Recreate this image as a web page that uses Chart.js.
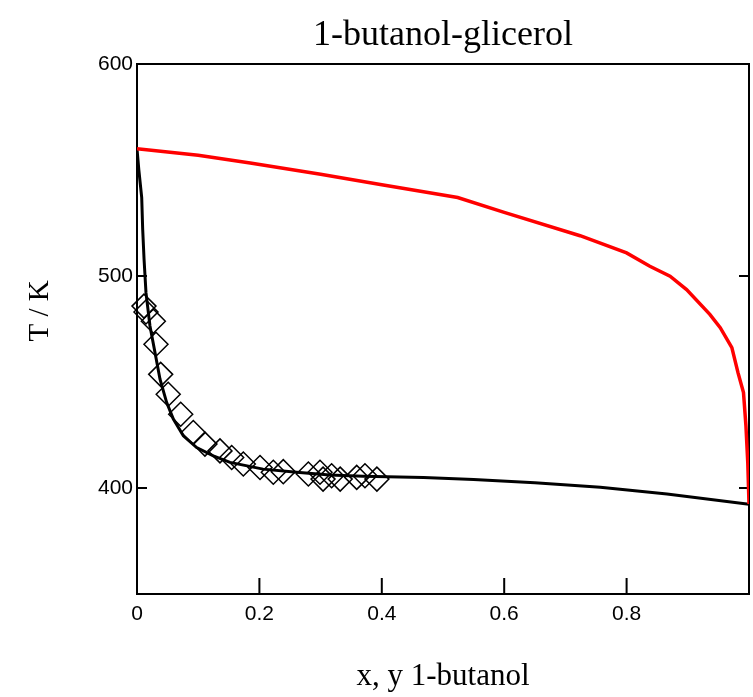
<!DOCTYPE html>
<html>
<head>
<meta charset="utf-8">
<script src="https://cdn.jsdelivr.net/npm/chart.js@4.4.0/dist/chart.umd.min.js"></script>
<style>
  html, body { margin: 0; padding: 0; background: #fff; overflow: hidden; }
  #wrap { width: 753px; height: 697px; position: relative; }
  canvas { display: block; }
</style>
</head>
<body>
<div id="wrap"><canvas id="chart"></canvas></div>
<script>
// liquid curve, T vs x (black)
var liqX = [0, 0.003, 0.0077, 0.0093, 0.0115, 0.0147, 0.0212, 0.0294, 0.0376, 0.0485, 0.0594, 0.0757, 0.0975, 0.1247, 0.152, 0.206, 0.261, 0.315, 0.37, 0.468, 0.55, 0.65, 0.757, 0.866, 1.0]
var liqT = [560, 550, 537, 522, 508, 492, 476.4, 463.9, 451.3, 440.3, 432.5, 424.6, 419.1, 415.2, 412.1, 408.9, 407.4, 406.1, 405.5, 405, 404, 402.5, 400.3, 397.2, 392.3]

// vapour curve, T vs y (red)
var vapX = [0, 0.1, 0.185, 0.3, 0.4, 0.524, 0.6, 0.724, 0.8, 0.838, 0.871, 0.898, 0.936, 0.953, 0.972, 0.982, 0.991, 0.995, 0.998, 1.0]
var vapT = [560, 557, 553.3, 548, 543, 537, 530, 519, 510.9, 504.6, 499.9, 493.6, 481.9, 475.6, 466.2, 454.4, 445, 429.3, 412, 392.5]

// experimental points (diamonds)
var expX = [0.0114, 0.0147, 0.0267, 0.031, 0.0387, 0.051, 0.0714, 0.092, 0.111, 0.1356, 0.1547, 0.1737, 0.201, 0.2227, 0.239, 0.28, 0.299, 0.304, 0.318, 0.332, 0.359, 0.3725, 0.392]
var expT = [485.8, 483, 478.7, 467.8, 453.6, 444.2, 434.8, 426.2, 420.7, 417.5, 414.4, 411.3, 409.7, 407.4, 407.7, 406.6, 407.4, 404.2, 405.8, 404.2, 405, 405.8, 404.2]

var xTicks = [0, 0.2, 0.4, 0.6, 0.8, 1]
var yTicks = [400, 500, 600]

function toPoints(xs, ys) {
    return xs.map(function (x, i) { return { x: x, y: ys[i] } })
}

// box round the plot + inward tick marks
var frameTicks = {
    id: 'frameTicks',
    beforeDatasetsDraw: function (chart) {
        var ctx = chart.ctx
        var a = chart.chartArea
        var xs = chart.scales.x
        var ys = chart.scales.y
        ctx.save()
        ctx.strokeStyle = '#000'
        ctx.lineWidth = 2
        ctx.strokeRect(a.left, a.top, a.right - a.left, a.bottom - a.top)
        ctx.beginPath()
        xTicks.forEach(function (v) {
            if (v <= 0 || v >= 1) return
            var px = xs.getPixelForValue(v)
            ctx.moveTo(px, a.bottom)
            ctx.lineTo(px, a.bottom - 16)
        })
        yTicks.forEach(function (v) {
            if (v >= 600) return
            var py = ys.getPixelForValue(v)
            ctx.moveTo(a.left, py)
            ctx.lineTo(a.left + 10, py)
            ctx.moveTo(a.right, py)
            ctx.lineTo(a.right - 10, py)
        })
        ctx.stroke()
        ctx.restore()
    }
}

Chart.defaults.font.family = "'Liberation Sans', Arial, sans-serif"
Chart.defaults.color = '#000'

var serif = "'Liberation Serif', 'Times New Roman', serif"

var chart = new Chart(document.getElementById('chart'), {
    type: 'scatter',
    data: {
        datasets: [{
            label: 'vapour',
            data: toPoints(vapX, vapT),
            showLine: true,
            borderColor: '#ff0000',
            borderWidth: 3.5,
            pointRadius: 0,
            tension: 0
        }, {
            label: 'liquid',
            data: toPoints(liqX, liqT),
            showLine: true,
            borderColor: '#000',
            borderWidth: 3,
            pointRadius: 0,
            tension: 0
        }, {
            label: 'exp',
            data: toPoints(expX, expT),
            showLine: false,
            pointStyle: 'rectRot',
            pointRadius: 12,
            pointBorderWidth: 1.5,
            pointBorderColor: '#000',
            pointBackgroundColor: 'rgba(0,0,0,0)',
            clip: false
        }]
    },
    options: {
        responsive: true,
        maintainAspectRatio: false,
        animation: false,
        layout: { autoPadding: false, padding: { left: 0, right: 4, top: 0, bottom: 0 } },
        plugins: {
            legend: { display: false },
            tooltip: { enabled: false },
            title: {
                display: true,
                text: '1-butanol-glicerol',
                fullSize: false,
                font: { family: serif, size: 36, weight: 'normal', lineHeight: 1 },
                padding: { top: 18, bottom: 10 },
                color: '#000'
            }
        },
        scales: {
            x: {
                type: 'linear',
                min: 0,
                max: 1,
                afterBuildTicks: function (s) { s.ticks = xTicks.map(function (v) { return { value: v } }) },
                afterFit: function (s) {
                    s.height = 103
                    s.paddingLeft = 0
                    s.paddingRight = 0
                },
                grid: { display: false, drawTicks: false },
                border: { display: false },
                ticks: {
                    padding: 8,
                    font: { size: 21 },
                    callback: function (v) { return v >= 1 ? '' : String(v) }
                },
                title: {
                    display: true,
                    text: 'x, y 1-butanol',
                    font: { family: serif, size: 31 },
                    padding: { top: 0, bottom: 2 }
                }
            },
            y: {
                type: 'linear',
                min: 350,
                max: 600,
                afterBuildTicks: function (s) { s.ticks = yTicks.map(function (v) { return { value: v } }) },
                afterFit: function (s) {
                    s.width = 137
                    s.paddingTop = 0
                    s.paddingBottom = 0
                },
                grid: { display: false, drawTicks: false },
                border: { display: false },
                ticks: {
                    padding: 4,
                    font: { size: 21 }
                },
                title: {
                    display: true,
                    // leading spaces lift the label a bit above the axis middle
                    text: '     T / K',
                    font: { family: serif, size: 29 },
                    padding: { top: 23, bottom: 0 }
                }
            }
        }
    },
    plugins: [frameTicks]
})
</script>
</body>
</html>
